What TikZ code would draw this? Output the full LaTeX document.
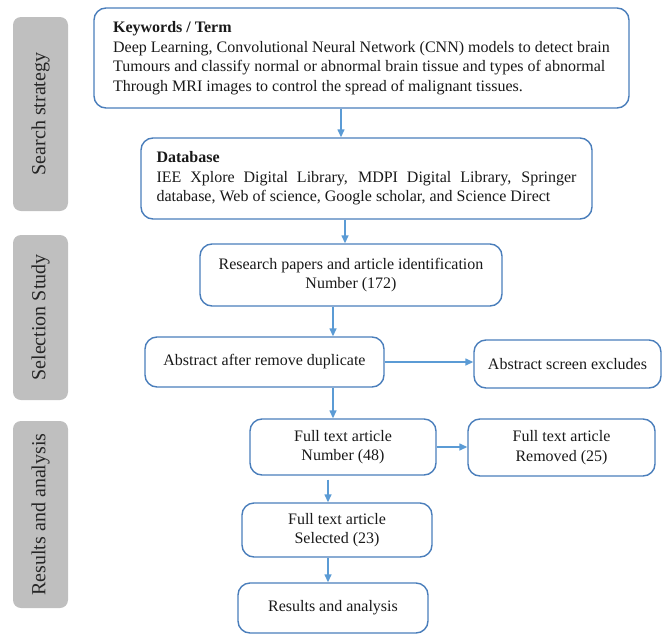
\documentclass[tikz,border=0pt]{standalone}
\usepackage{fontspec}
\setmainfont{Liberation Serif}
\usetikzlibrary{arrows.meta}
\definecolor{boxblue}{RGB}{74,126,187}
\definecolor{arrblue}{RGB}{91,155,213}
\definecolor{bargray}{RGB}{191,191,191}
\begin{document}
\begin{tikzpicture}[x=1pt,y=-1pt,
  box/.style={draw=boxblue, line width=1.4pt, rounded corners=12pt, inner sep=0pt,
    font=\fontsize{16}{19.5}\selectfont, align=center, text=black!90},
  bar/.style={fill=bargray, rounded corners=8pt, rotate=90, inner sep=0pt,
    font=\fontsize{20}{24}\selectfont, text=black!85},
  arr/.style={draw=arrblue, line width=1.4pt, -{Triangle[length=8pt,width=7pt]}}]
\useasboundingbox (0,0) rectangle (667,635);

% side bars
\node[bar, minimum width=194pt, minimum height=55pt] (b1) at (40.5,114) {Search strategy};
\node[bar, minimum width=165pt, minimum height=55pt] (b2) at (40.5,317.5) {Selection Study};
\node[bar, minimum width=187pt, minimum height=55pt] (b3) at (40.5,514.5) {Results and analysis};

% boxes
\node[box, align=left, minimum width=535pt, minimum height=100pt] (kw) at (361.5,58)
  {{\bfseries Keywords / Term}\\
   Deep Learning, Convolutional Neural Network (CNN) models to detect brain\\
   Tumours and classify normal or abnormal brain tissue and types of abnormal\\
   Through MRI images to control the spread of malignant tissues.};
\node[box, align=left, minimum width=451pt, minimum height=81pt] (db) at (366.5,178.5)
  {{\bfseries Database}\\
   \makebox[420pt][s]{IEE Xplore Digital Library, MDPI Digital Library, Springer}\\
   database, Web of science, Google scholar, and Science Direct};
\node[box, minimum width=302pt, minimum height=62pt] (res) at (351,275)
  {Research papers and article identification\\Number (172)};
\node[box, minimum width=239pt, minimum height=50pt] (abs) at (264.5,362)
  {Abstract after remove duplicate};
\node[box, minimum width=187pt, minimum height=48pt] (scr) at (567.5,364)
  {Abstract screen excludes};
\node[box, minimum width=186pt, minimum height=56pt] (f48) at (343,447)
  {Full text article\\Number (48)};
\node[box, minimum width=187pt, minimum height=57pt] (rem) at (561.5,447.5)
  {Full text article\\Removed (25)};
\node[box, minimum width=190pt, minimum height=54pt] (sel) at (337,530)
  {Full text article\\Selected (23)};
\node[box, minimum width=190pt, minimum height=50pt] (resu) at (333,608)
  {Results and analysis};

% connector guide coordinates
\coordinate (c1) at (341,0);
\coordinate (c2) at (345,0);
\coordinate (c3) at (333,0);
\coordinate (c4) at (328,0);
\coordinate (r1) at (0,362);
\coordinate (r2) at (0,447);

% connectors
\draw[arr] (kw.south -| c1) -- (db.north -| c1);
\draw[arr] (db.south -| c2) -- (res.north -| c2);
\draw[arr] (res.south -| c3) -- (abs.north -| c3);
\draw[arr] (abs.east |- r1) -- (scr.west |- r1);
\draw[arr] (abs.south -| c3) -- (f48.north -| c3);
\draw[arr] (f48.east |- r2) -- (rem.west |- r2);
\draw[arr, shorten <=4pt] (f48.south -| c4) -- (sel.north -| c4);
\draw[arr] (sel.south -| c4) -- (resu.north -| c4);
\end{tikzpicture}
\end{document}
